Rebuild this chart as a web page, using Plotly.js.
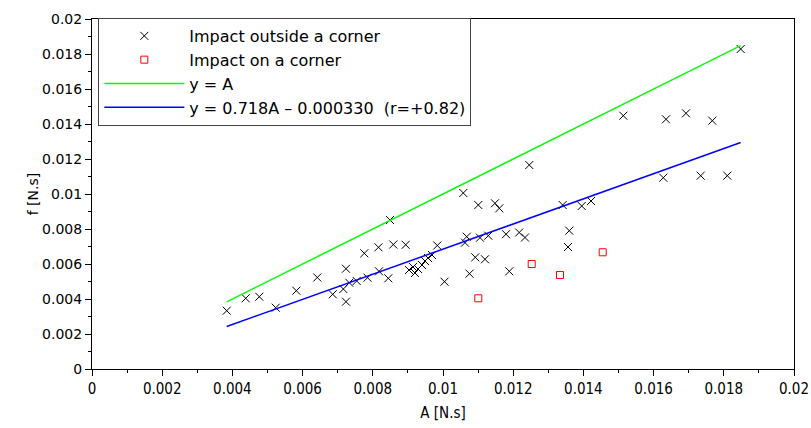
<!DOCTYPE html>
<html>
<head>
<meta charset="utf-8">
<script src="https://cdn.plot.ly/plotly-3.0.1.min.js"></script>
<style>html,body{margin:0;padding:0;background:#fff;}#chart{width:811px;height:428px;}</style>
</head>
<body>
<div id="chart"></div>
<script>
// Impact outside a corner
const outsideA = [0.003838,0.004379,0.004766,0.005234,0.005821,0.006419,0.006858,0.007160,0.007236,0.007236,
  0.007330,0.007541,0.007758,0.007849,0.008162,0.008177,0.008442,0.008490,0.008584,0.008937,
  0.009031,0.009145,0.009202,0.009288,0.009402,0.009487,0.009573,0.009687,0.009838,0.010043,
  0.010578,0.010627,0.010675,0.010755,0.010920,0.011006,0.011054,0.011197,0.011291,0.011481,
  0.011604,0.011795,0.011889,0.012171,0.012336,0.012459,0.013410,0.013561,0.013598,0.013952,
  0.014217,0.015137,0.016276,0.016353,0.016923,0.017342,0.017672,0.018100,0.018481];
const outsideF = [0.003331,0.004040,0.004131,0.003503,0.004474,0.005229,0.004269,0.004571,0.003846,0.005731,
  0.004931,0.005029,0.006611,0.005217,0.006954,0.005583,0.005183,0.008514,0.007114,0.007097,
  0.005657,0.005829,0.005486,0.005714,0.005943,0.006171,0.006343,0.006514,0.007057,0.004989,
  0.010057,0.007217,0.007560,0.005446,0.006383,0.009371,0.007503,0.006269,0.007617,0.009469,
  0.009183,0.007703,0.005583,0.007800,0.007514,0.011657,0.009371,0.006971,0.007903,0.009314,
  0.009600,0.014474,0.010931,0.014269,0.014611,0.011046,0.014189,0.011046,0.018286];
// Impact on a corner
const cornerA = [0.011006,0.012527,0.013333,0.014550];
const cornerF = [0.004040,0.006000,0.005371,0.006669];
// Fit: y = slope*A + intercept
const slope = 0.718;
const intercept = -0.000330;

const aMin = Math.min(...outsideA, ...cornerA);
const aMax = Math.max(...outsideA, ...cornerA);
const lineA = [aMin, aMax];

const traces = [
  {x: outsideA, y: outsideF, type: 'scatter', mode: 'markers', name: 'Impact outside a corner',
   marker: {symbol: 'x-thin', size: 8, color: '#000', line: {color: '#000', width: 1}}},
  {x: cornerA, y: cornerF, type: 'scatter', mode: 'markers', name: 'Impact on a corner',
   marker: {symbol: 'square-open', size: 7, color: '#ff0000', line: {color: '#ff0000', width: 1}}},
  {x: lineA, y: lineA.map(a => a), type: 'scatter', mode: 'lines', name: 'y = A',
   line: {color: '#00ff00', width: 1.5}},
  {x: lineA, y: lineA.map(a => slope * a + intercept), type: 'scatter', mode: 'lines',
   name: 'y = 0.718A \u2013 0.000330  (r=+0.82)', line: {color: '#0000ff', width: 1.5}}
];

const layout = {
  width: 811, height: 428,
  margin: {l: 92, r: 17, t: 19, b: 59},
  paper_bgcolor: '#fff', plot_bgcolor: '#fff',
  showlegend: true,
  font: {family: 'DejaVu Sans', size: 14, color: '#000'},
  xaxis: {
    range: [0, 0.02], dtick: 0.002, tick0: 0, showgrid: false, zeroline: false,
    showline: true, linecolor: '#000', linewidth: 1, mirror: true,
    ticks: 'outside', ticklen: 6, tickcolor: '#000',
    minor: {dtick: 0.001, ticks: 'outside', ticklen: 3, tickcolor: '#000'},
    tickfont: {family: 'DejaVu Sans Condensed', size: 15},
    title: {text: 'A [N.s]', font: {family: 'DejaVu Sans Condensed', size: 15}, standoff: 10}
  },
  yaxis: {
    range: [0, 0.02], dtick: 0.002, tick0: 0, showgrid: false, zeroline: false,
    showline: true, linecolor: '#000', linewidth: 1, mirror: true,
    ticks: 'outside', ticklen: 6, tickcolor: '#000',
    minor: {dtick: 0.001, ticks: 'outside', ticklen: 3, tickcolor: '#000'},
    tickfont: {family: 'DejaVu Sans', size: 14},
    title: {text: 'f [N.s]', font: {family: 'DejaVu Sans', size: 14}, standoff: 0}
  },
  legend: {
    x: 0.009, y: 1.003, xanchor: 'left', yanchor: 'top',
    bgcolor: '#fff', bordercolor: '#444', borderwidth: 1,
    font: {family: 'DejaVu Sans', size: 16, color: '#000'},
    itemwidth: 80, tracegroupgap: 0
  }
};

Plotly.newPlot('chart', traces, layout, {displayModeBar: false, staticPlot: true});
</script>
</body>
</html>
